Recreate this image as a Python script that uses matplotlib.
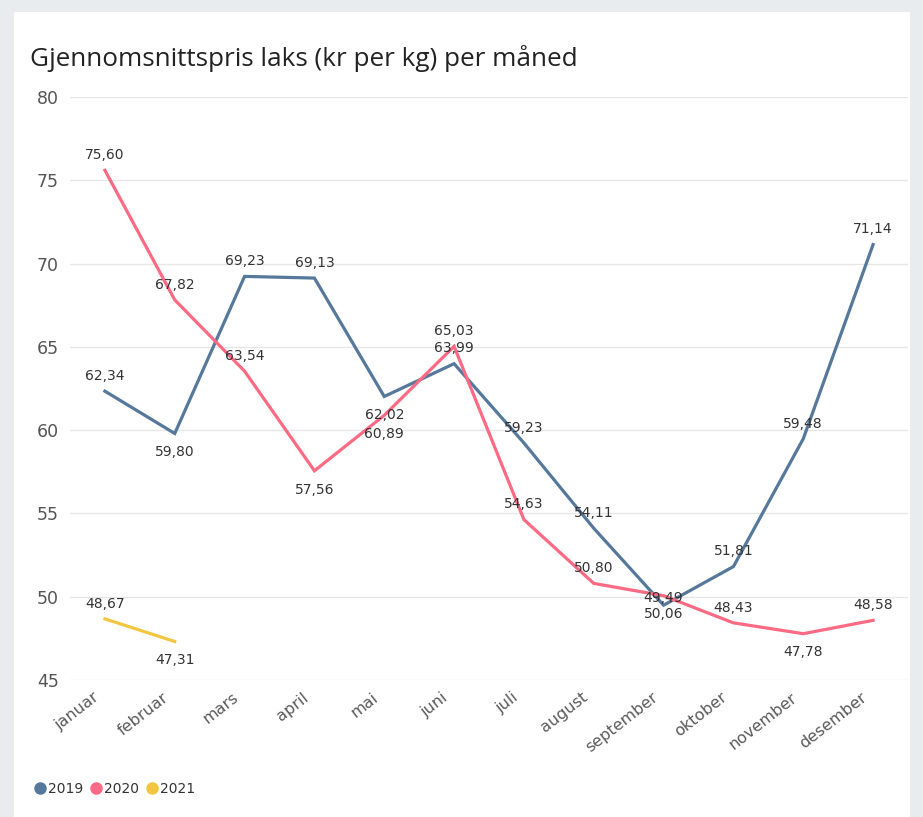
import matplotlib.pyplot as plt
import matplotlib.transforms as mtransforms
from matplotlib.patches import Rectangle

# data
months = ["januar", "februar", "mars", "april", "mai", "juni", "juli",
          "august", "september", "oktober", "november", "desember"]
pris_2019 = [62.34, 59.80, 69.23, 69.13, 62.02, 63.99, 59.23, 54.11, 49.49, 51.81, 59.48, 71.14]
pris_2020 = [75.60, 67.82, 63.54, 57.56, 60.89, 65.03, 54.63, 50.80, 50.06, 48.43, 47.78, 48.58]
pris_2021 = [48.67, 47.31]

# label placement: +1 above the point, -1 below
side_2019 = [1, -1, 1, 1, -1, 1, 1, 1, 1, 1, 1, 1]
side_2020 = [1, 1, 1, -1, -1, 1, 1, 1, -1, 1, -1, 1]
side_2021 = [1, -1]

col_2019 = "#56789a"
col_2020 = "#fc6a83"
col_2021 = "#f2c641"
txt_col = "#333333"

fig = plt.figure(figsize=(9.23, 8.17), dpi=100)
fig.patch.set_facecolor("#e8ecef")
fig.patches.append(Rectangle((14 / 923, 0), (910 - 14) / 923, (817 - 12) / 817,
                             transform=fig.transFigure, facecolor="white",
                             edgecolor="none", zorder=-10))

ax = fig.add_axes([70 / 923, (817 - 680) / 817, (908 - 70) / 923, (680 - 97) / 817])
ax.set_facecolor("none")
ax.set_zorder(2)

x = list(range(len(months)))


def draw(vals, sides, color, label, extra=None):
    xs = x[:len(vals)]
    ax.plot(xs, vals, color=color, lw=2.3, solid_joinstyle="miter", label=label, zorder=3)
    for i, (v, s) in enumerate(zip(vals, sides)):
        dy = 11 if s > 0 else -13.5
        if extra and i in extra:
            dy = extra[i]
        ax.annotate(f"{v:.2f}".replace(".", ","), (xs[i], v), xytext=(0, dy),
                    textcoords="offset points", ha="center", va="center",
                    fontsize=10, color=txt_col, zorder=4)


draw(pris_2019, side_2019, col_2019, "2019", extra={8: 5})
draw(pris_2020, side_2020, col_2020, "2020")
draw(pris_2021, side_2021, col_2021, "2021")

ax.set_xlim(-0.5, 11.5)
ax.set_ylim(45, 80)
ax.set_yticks(range(45, 81, 5))
ax.set_xticks(x)
ax.set_xticklabels([])
# month labels, nudged left of the tick like the original
shift = mtransforms.ScaledTranslation(-9 / 72, -7 / 72, fig.dpi_scale_trans)
for xi, m in zip(x, months):
    ax.text(xi, 0, m, transform=ax.get_xaxis_transform() + shift, rotation=38,
            ha="right", va="top", rotation_mode="anchor", fontsize=11.5,
            color="#5a5a5a")
ax.tick_params(axis="y", length=0, labelsize=12.5, labelcolor="#555555", pad=8)
ax.tick_params(axis="x", length=0)
ax.grid(axis="y", color="#e6e6e6", lw=1)
ax.set_axisbelow(True)
for sp in ax.spines.values():
    sp.set_visible(False)

fig.text(30 / 923, 1 - 58 / 817, "Gjennomsnittspris laks (kr per kg) per måned",
         fontsize=18.8, family="Open Sans", color="#222222", va="center")

leg = fig.legend(handles=ax.get_lines(), loc="center left",
                 bbox_to_anchor=(22 / 923, 1 - 789 / 817), ncol=3, frameon=False,
                 fontsize=10, handlelength=0.8, handletextpad=0.2, columnspacing=0.5,
                 labelcolor="#333333")
for h in leg.legend_handles:
    h.set_linestyle("none")
    h.set_marker("o")
    h.set_markersize(8)

fig.savefig("out.png", dpi=100)
